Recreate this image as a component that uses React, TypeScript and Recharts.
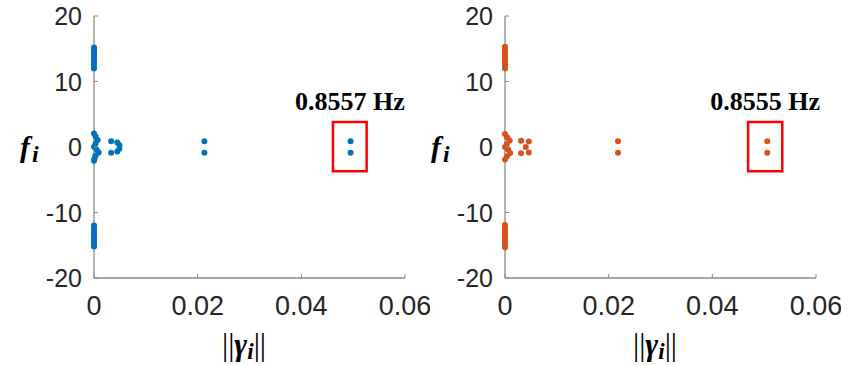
import { ScatterChart, Scatter, XAxis, YAxis, ReferenceArea } from 'recharts'

// values: ||gamma_i|| (x) against f_i in Hz (y)
const xTicks = [0, 0.02, 0.04, 0.06]
const yTicks = [-20, -10, 0, 10, 20]

const leftGamma = [
  0, 0, 0, 0, 0, 0, 0, 0, 0, 0,
  0, 0, 0, 0, 0, 0, 0, 0, 0, 0,
  0, 0.0003, 0.0007, 0.0003, 0, 0.0005, 0.0009, 0.0003, 0.0001, 0,
  0.0033, 0.0033, 0.0045, 0.0049, 0.0049, 0.0045,
  0.0213, 0.0213, 0.0495, 0.0495,
]
const leftFreq = [
  15.2, 14.8, 14.5, 14.1, 13.8, 13.4, 13.1, 12.7, 12.4, 12.0,
  -12.0, -12.4, -12.8, -13.1, -13.5, -13.8, -14.2, -14.5, -14.9, -15.2,
  2.05, 1.6, 1.05, 0.5, 0.05, -0.4, -0.85, -1.3, -1.75, -2.1,
  0.86, -0.86, 0.7, 0.25, -0.25, -0.7,
  0.86, -0.86, 0.86, -0.86,
]

const rightGamma = [
  0, 0, 0, 0, 0, 0, 0, 0, 0, 0,
  0, 0, 0, 0, 0, 0, 0, 0, 0, 0,
  0, 0.0004, 0.0009, 0.0004, 0, 0.0006, 0.001, 0.0004, 0,
  0.0031, 0.0031, 0.0046, 0.0046, 0.004,
  0.0218, 0.0218, 0.0506, 0.0506,
]
const rightFreq = [
  15.3, 14.9, 14.6, 14.2, 13.9, 13.5, 13.1, 12.8, 12.4, 12.0,
  -11.9, -12.3, -12.7, -13.0, -13.4, -13.8, -14.1, -14.5, -14.9, -15.3,
  2.0, 1.5, 1.0, 0.5, 0, -0.4, -0.9, -1.4, -1.9,
  0.95, -0.95, 0.85, -0.85, 0,
  0.86, -0.86, 0.86, -0.86,
]

const leftBox = { x1: 0.0461, x2: 0.0526, y1: -3.7, y2: 3.8, label: '0.8557 Hz' }
const rightBox = { x1: 0.0469, x2: 0.0535, y1: -3.7, y2: 3.8, label: '0.8555 Hz' }

const BLUE = '#0072BD'
const ORANGE = '#D95319'
const AXIS = '#8a8a8a'
const TEXT = '#262626'
const SANS = '"Liberation Sans", Arial, sans-serif'
const SERIF = '"Liberation Serif", "Times New Roman", serif'

const zip = (xs: number[], ys: number[]) => xs.map((x, i) => ({ x, y: ys[i] }))

const fmtX = (v: number) => (v === 0 ? '0' : v.toFixed(2))

function XTick({ x, y, payload }: any) {
  return (
    <g>
      <line x1={x} x2={x} y1={y} y2={y - 4} stroke={AXIS} strokeWidth={1} />
      <text x={x} y={y + 37} textAnchor="middle" fontFamily={SANS} fontSize={27} fill={TEXT}>
        {fmtX(payload.value)}
      </text>
    </g>
  )
}

function YTick({ x, y, payload }: any) {
  return (
    <g>
      <line x1={x} x2={x + 4} y1={y} y2={y} stroke={AXIS} strokeWidth={1} />
      <text x={x - 12} y={y + 9} textAnchor="end" fontFamily={SANS} fontSize={25} fill={TEXT}>
        {payload.value}
      </text>
    </g>
  )
}

function Panel({ left, data, color, box }: { left: number; data: { x: number; y: number }[]; color: string; box: typeof leftBox }) {
  return (
    <div style={{ position: 'absolute', left, top: 0, width: 430, height: 365 }}>
      <ScatterChart width={430} height={365} margin={{ top: 16, right: 25, bottom: 57, left: 34 }}>
        <XAxis
          type="number" dataKey="x" domain={[0, 0.06]} ticks={xTicks} height={30}
          tickSize={0} tickMargin={0} tick={<XTick />} axisLine={{ stroke: AXIS, strokeWidth: 1.3 }}
        />
        <YAxis
          type="number" dataKey="y" domain={[-20, 20]} ticks={yTicks} width={60}
          tickSize={0} tickMargin={0} tick={<YTick />} axisLine={{ stroke: AXIS, strokeWidth: 1.3 }}
        />
        <ReferenceArea
          x1={box.x1} x2={box.x2} y1={box.y1} y2={box.y2}
          fill="none" fillOpacity={0} stroke="#FF0000" strokeWidth={2.5} ifOverflow="visible"
          label={{ value: box.label, position: 'top', offset: 12, fill: '#000', fontSize: 26, fontWeight: 700, fontFamily: SERIF }}
        />
        <Scatter
          data={data} isAnimationActive={false}
          shape={(p: any) => <circle cx={p.cx} cy={p.cy} r={3} fill={color} />}
        />
      </ScatterChart>
      <svg width={430} height={365} style={{ position: 'absolute', left: 0, top: 0, pointerEvents: 'none' }}>
        <text x={20} y={157} fontFamily={SERIF} fontSize={30} fontWeight={700} fontStyle="italic" fill="#000">
          f<tspan fontSize={24} dy={5} dx={2}>i</tspan>
        </text>
        <text x={244} y={355} textAnchor="middle" fontFamily={SERIF} fontSize={31} fill="#000">
          ||<tspan fontWeight={700} fontStyle="italic">γ</tspan>
          <tspan fontWeight={700} fontStyle="italic" fontSize={23} dy={4}>i</tspan>
          <tspan dy={-4}>||</tspan>
        </text>
      </svg>
    </div>
  )
}

export default function App() {
  return (
    <div style={{ position: 'absolute', left: 0, top: 0, width: 851, height: 365, background: '#fff' }}>
      <Panel left={0} data={zip(leftGamma, leftFreq)} color={BLUE} box={leftBox} />
      <Panel left={411} data={zip(rightGamma, rightFreq)} color={ORANGE} box={rightBox} />
    </div>
  )
}
